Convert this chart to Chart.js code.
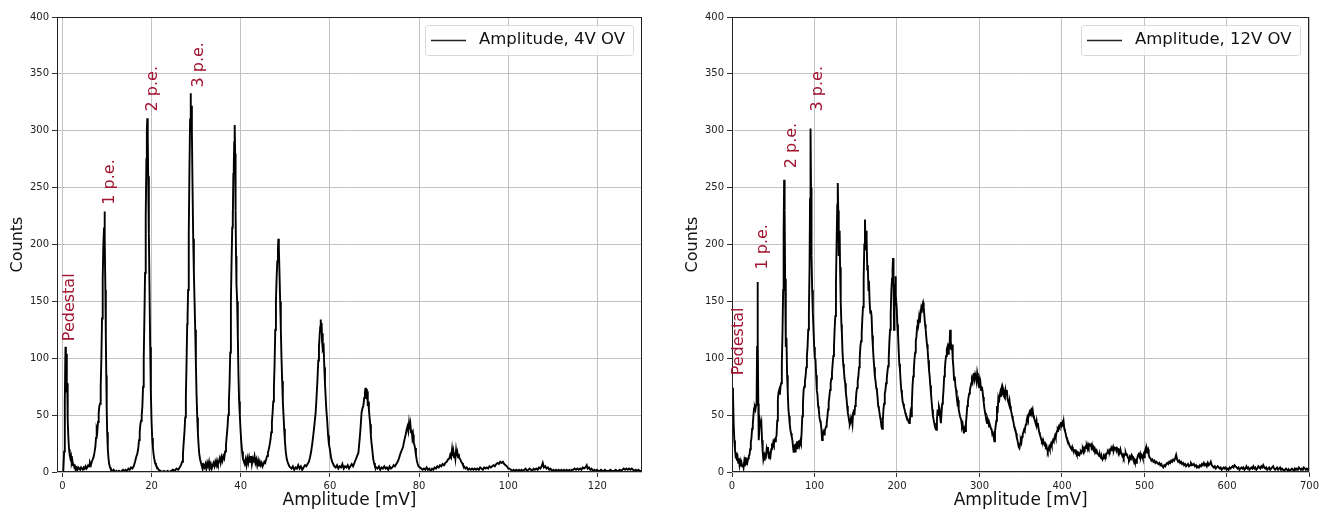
<!DOCTYPE html>
<html>
<head>
<meta charset="utf-8">
<script src="https://cdn.jsdelivr.net/npm/chart.js@4.4.0/dist/chart.umd.min.js"></script>
<style>
  html, body { margin: 0; padding: 0; background: #fff; }
  #wrap { position: relative; width: 1322px; height: 510px; }
  .panel { position: absolute; top: 0; }
  #left { left: 0; }
  #right { left: 675px; }
</style>
</head>
<body>
<div id="wrap">
  <div class="panel" id="left"><canvas id="c4" width="661" height="510"></canvas></div>
  <div class="panel" id="right"><canvas id="c12" width="647" height="510"></canvas></div>
</div>
<script>
// amplitude histogram, 4V overvoltage: [mV, counts]
const hist4V = [
  [-0.2,0],[0.2,0],[0.4,18],[0.55,62],[0.7,110],[0.8,96],[0.9,104],[1.0,70],[1.1,78],[1.2,46],[1.35,30],[1.5,20],[1.65,15],[1.8,12],[1.95,14],[2.1,8],[2.25,10],[2.4,6],[2.55,7],[2.7,4],[2.85,5],[3.0,3],[3.2,4],[3.4,2],[3.6,4],[3.8,3],[4.0,2],[4.2,4],[4.4,3],[4.6,2],[4.8,4],[5.0,3],[5.2,5],[5.4,3],[5.6,4],[5.8,6],[6.0,5],[6.2,8],[6.4,6],[6.6,9],[6.8,11],[7.0,13],[7.2,17],[7.4,22],[7.55,30],[7.7,38],[7.85,36],[8.0,44],[8.15,52],[8.3,58],[8.45,60],[8.6,75],[8.75,100],[8.9,135],[9.05,170],[9.2,200],[9.35,215],[9.45,229],[9.55,205],[9.65,160],[9.75,120],[9.85,85],[9.95,55],[10.05,35],[10.2,20],[10.35,12],[10.5,7],[10.7,4],[10.9,2],[11.2,1],[11.5,2],[11.8,0],[12.1,1],[12.4,0],[12.7,1],[13.0,0],[13.3,1],[13.6,2],[13.9,1],[14.2,2],[14.5,1],[14.8,3],[15.1,2],[15.4,4],[15.7,3],[16.0,5],
  [16.3,9],[16.55,13],[16.8,16],[17.0,20],[17.2,28],[17.35,35],[17.5,42],[17.65,45],[17.8,50],[17.95,58],[18.1,75],[18.25,100],[18.4,135],[18.55,175],[18.7,225],[18.85,275],[18.95,300],[19.05,311],[19.15,295],[19.25,260],[19.4,210],[19.55,160],[19.7,110],[19.85,70],[20.0,45],[20.15,30],[20.3,22],[20.45,16],[20.6,12],[20.8,8],[21.0,6],[21.3,4],[21.6,2],[22.0,1],[22.4,0],[22.8,1],[23.2,0],[23.6,1],[24.0,0],[24.4,1],[24.8,2],[25.2,1],[25.6,3],[26.0,2],
  [26.3,4],[26.6,6],[26.85,9],[27.05,16],[27.25,28],[27.4,36],[27.55,48],[27.7,66],[27.85,95],[28.0,130],[28.05,140],[28.12,136],[28.2,160],[28.35,210],[28.5,265],[28.65,310],[28.75,333],[28.85,318],[28.95,322],[29.05,300],[29.2,250],[29.35,205],[29.5,175],[29.65,150],[29.8,125],[29.95,95],[30.1,68],[30.25,48],[30.4,34],[30.55,24],[30.7,16],[30.9,11],[31.1,8],[31.3,5],[31.5,3],[31.7,6],[31.9,4],[32.1,7],[32.3,3],[32.5,8],[32.7,5],[32.9,9],[33.1,4],[33.3,7],[33.5,3],[33.7,6],[33.9,8],[34.1,5],[34.3,9],[34.5,6],[34.7,10],[34.9,7],[35.1,9],[35.3,12],[35.5,8],[35.7,13],[35.9,10],[36.1,14],[36.3,12],
  [36.5,18],[36.7,24],[36.9,33],[37.05,40],[37.2,50],[37.35,62],[37.5,78],[37.65,105],[37.8,150],[37.95,185],[38.1,215],[38.2,229],[38.25,222],[38.35,262],[38.45,270],[38.55,290],[38.65,305],[38.75,280],[38.85,230],[38.95,190],[39.05,165],[39.2,150],[39.35,120],[39.5,85],[39.65,62],[39.8,50],[39.95,38],[40.1,28],[40.3,18],[40.5,12],[40.7,9],[40.9,7],[41.1,11],[41.3,6],[41.5,12],[41.7,8],[41.9,13],[42.1,9],[42.3,14],[42.5,7],[42.7,12],[42.9,10],[43.1,14],[43.3,8],[43.5,11],[43.7,6],[43.9,10],[44.1,5],[44.3,9],[44.5,6],[44.7,8],[44.9,5],[45.1,7],[45.3,9],[45.5,8],[45.7,11],
  [45.9,14],[46.1,17],[46.3,20],[46.5,24],[46.7,29],[46.85,35],[47.0,44],[47.15,52],[47.3,62],[47.45,75],[47.6,95],[47.75,125],[47.9,150],[48.05,170],[48.2,185],[48.35,196],[48.45,205],[48.55,198],[48.7,175],[48.85,150],[49.0,125],[49.15,100],[49.3,80],[49.45,62],[49.6,50],[49.75,38],[49.9,28],[50.1,18],[50.3,12],[50.5,9],[50.7,7],[50.9,5],[51.1,4],[51.4,3],[51.7,5],[52.0,2],[52.3,4],[52.6,3],[52.9,6],[53.2,3],[53.5,5],[53.8,2],[54.1,4],[54.4,6],[54.7,5],[55.0,7],[55.3,9],
  [55.55,13],[55.8,18],[56.05,25],[56.3,33],[56.55,42],[56.8,52],[57.0,65],[57.2,80],[57.4,98],[57.55,110],[57.7,120],[57.85,128],[57.95,134],[58.05,126],[58.15,131],[58.25,115],[58.35,122],[58.45,108],[58.6,110],[58.75,92],[58.9,78],[59.05,66],[59.2,55],[59.4,45],[59.6,32],[59.8,24],[60.0,20],[60.25,13],[60.5,9],[60.75,7],[61.0,5],[61.3,4],[61.6,6],[61.9,3],[62.2,5],[62.5,4],[62.8,7],[63.1,3],[63.4,5],[63.7,4],[64.0,6],[64.3,3],[64.6,5],[64.9,7],[65.2,5],[65.5,8],
  [65.8,11],[66.1,14],[66.4,17],[66.7,30],[66.9,40],[67.1,52],[67.3,56],[67.5,58],[67.7,65],[67.85,70],[68.0,74],[68.1,66],[68.2,73],[68.3,64],[68.4,71],[68.5,58],[68.6,62],[68.75,55],[68.9,48],[69.05,42],[69.2,32],[69.35,25],[69.5,20],[69.7,12],[69.9,8],[70.1,5],[70.4,4],[70.7,3],[71.0,5],[71.3,2],[71.6,4],[71.9,3],[72.2,5],[72.5,3],[72.8,4],[73.1,2],[73.4,5],[73.7,3],[74.0,4],[74.3,6],[74.6,5],[74.9,7],
  [75.2,9],[75.5,12],[75.8,16],[76.1,19],[76.4,22],[76.7,28],[77.0,33],[77.2,37],[77.4,40],[77.6,36],[77.75,43],[77.9,38],[78.05,42],[78.2,35],[78.35,37],[78.5,30],[78.65,33],[78.8,26],[78.95,24],[79.1,21],[79.3,15],[79.5,10],[79.7,7],[79.9,5],[80.2,4],[80.5,3],[80.8,2],[81.1,3],[81.4,2],[81.7,4],[82.0,2],[82.3,3],[82.6,1],[82.9,3],[83.2,2],[83.5,4],[83.8,3],[84.1,5],[84.4,4],[84.7,6],[85.0,5],[85.3,7],[85.6,6],
  [85.9,8],[86.2,9],[86.5,11],[86.8,12],[87.0,15],[87.2,13],[87.4,20],[87.55,14],[87.7,18],[87.85,13],[88.0,17],[88.15,12],[88.3,19],[88.45,14],[88.6,17],[88.75,13],[88.9,16],[89.05,12],[89.25,11],[89.45,9],[89.65,8],[89.85,6],[90.1,5],[90.4,3],[90.7,4],[91.0,2],[91.3,3],[91.6,2],[91.9,3],[92.2,2],[92.5,3],[92.8,2],[93.1,3],[93.4,2],[93.7,4],[94.0,3],[94.3,2],[94.6,4],[94.9,3],[95.2,4],[95.5,3],[95.8,5],
  [96.1,4],[96.4,5],[96.7,6],[97.0,5],[97.3,7],[97.6,8],[97.9,7],[98.2,9],[98.5,8],[98.8,9],[99.1,7],[99.4,6],[99.7,5],[100.0,3],[100.3,3],[100.6,2],[100.9,1],[101.2,2],[101.5,1],[101.8,2],[102.1,1],[102.4,2],[102.7,1],[103.0,2],[103.3,1],[103.6,2],[103.9,3],[104.2,1],[104.5,2],[104.8,3],[105.1,2],[105.4,1],[105.7,3],[106.0,2],[106.3,3],[106.6,2],[106.9,4],[107.2,3],[107.5,5],[107.75,8],[108.0,4],[108.3,5],[108.6,3],[108.9,4],[109.2,2],[109.5,3],[109.8,1],[110.1,2],[110.4,1],[110.7,2],[111.0,1],[111.3,2],[111.6,1],[111.9,2],[112.2,1],[112.5,2],[112.8,1],[113.1,2],[113.4,1],[113.7,2],[114.0,1],[114.3,2],[114.6,2],[114.9,3],[115.2,2],[115.5,3],[115.8,2],[116.1,3],[116.4,2],[116.7,4],[117.0,3],[117.3,4],[117.6,6],[117.8,3],[118.1,4],[118.4,2],[118.7,3],[119.0,1],[119.3,2],[119.6,1],[119.9,2],[120.2,1],[120.5,1],[120.8,2],[121.1,1],[121.4,1],[121.7,2],[122.0,1],[122.3,1],[122.6,1],[122.9,2],[123.2,1],[123.5,1],[123.8,1],[124.1,2],[124.4,1],[124.7,1],[125.0,2],[125.3,1],[125.6,2],[125.9,3],[126.2,2],[126.5,3],[126.8,2],[127.1,3],[127.4,2],[127.7,3],[128.0,2],[128.3,1],[128.6,2],[128.9,1],[129.2,2],[129.5,1],[129.8,1],[130.1,1]
];

// amplitude histogram, 12V overvoltage: [mV, counts]
const hist12V = [
  [0.4,74],[1.2,68],[2.0,43],[2.8,28],[3.6,20],[4.4,14],[5.2,15],[6.0,10],[6.8,13],[7.6,8],[8.4,12],[9.2,6],[10.0,9],[10.8,5],[11.6,8],[12.4,5],[13.2,7],[14.0,4],[14.8,9],[15.6,5],[16.4,13],[17.2,7],[18.0,12],[18.8,9],[19.6,12],[20.4,14],[21.2,15],[22.0,20],[22.8,26],[23.6,30],[24.4,38],[25.2,42],[26.0,50],[26.8,56],[27.6,57],[28.4,55],[29.2,59],[29.8,62],[30.4,110],[30.9,167],[31.4,120],[31.9,60],[32.4,28],[33.2,38],[34.0,44],[34.8,40],[35.6,43],[36.4,28],[37.2,18],[38.0,11],[38.8,14],[39.6,10],[40.4,15],[41.2,14],[42.0,20],[42.8,17],[43.6,22],[44.4,14],[45.2,12],[46.0,18],[46.8,15],[47.6,20],[48.4,23],[49.2,22],[50.0,26],[50.8,24],[51.6,28],[52.4,27],[53.2,30],[54.0,32],[54.8,45],[55.6,64],[56.4,70],[57.2,72],[58.0,68],[58.8,75],[59.6,78],[60.4,95],[61.2,122],[62.0,160],[62.6,210],[63.2,257],[63.8,230],[64.4,170],[65.2,110],[66.0,118],[66.8,85],[67.6,70],[68.4,55],[69.2,49],[70.0,42],[70.8,37],[71.6,34],[72.4,31],[73.2,28],[74.0,22],[74.8,17],[75.6,24],[76.4,18],[77.2,25],[78.0,20],[78.8,27],[79.6,20],[80.4,26],[81.2,28],[82.0,24],[82.8,27],[83.6,25],[84.4,35],[85.2,49],[86.0,60],[86.8,72],[87.6,75],[88.4,80],[89.2,84],[90.0,92],[90.8,102],[91.6,110],[92.4,125],[93.2,140],[94.0,180],[94.6,240],[95.2,302],[95.8,250],[96.4,190],[97.2,160],[98.0,140],[98.8,125],[99.6,110],[100.4,100],[101.2,99],[102.0,85],[102.8,72],[103.6,68],[104.4,58],[105.2,55],[106.0,48],[106.8,45],[107.6,43],[108.4,38],[109.2,28],[110.0,32],[110.8,35],[111.6,33],[112.4,36],[113.2,38],[114.0,40],[114.8,43],[115.6,48],[116.4,55],[117.2,61],[118.0,66],[118.8,72],[119.6,78],[120.4,82],[121.2,87],[122.0,95],[122.8,102],[123.6,110],[124.4,125],[125.2,137],[126.0,165],[126.8,200],[127.6,235],[128.2,254],[128.8,230],[129.4,190],[130.0,205],[130.5,212],[131.0,180],[131.8,150],[132.6,130],[133.2,122],[134.0,105],[134.8,95],[135.6,90],[136.4,82],[137.2,78],[138.0,70],[138.8,65],[139.6,58],[140.4,52],[141.2,49],[142.0,45],[142.8,42],[143.6,44],[144.4,48],[145.2,46],[146.0,42],[146.8,52],[147.6,55],[148.4,50],[149.2,58],[150.0,62],[150.8,70],[151.6,74],[152.4,80],[153.2,84],[154.0,92],[154.8,100],[155.6,110],[156.4,115],[157.2,122],[158.0,135],[158.8,145],[159.6,170],[160.4,200],[161.2,222],[162.0,195],[162.6,212],[163.2,205],[164.0,178],[164.6,182],[165.4,160],[166.0,168],[166.8,150],[167.6,140],[168.4,142],[169.2,137],[170.0,120],[170.8,110],[171.6,100],[172.4,92],[173.2,84],[174.0,80],[174.8,74],[175.6,72],[176.4,66],[177.2,58],[178.0,56],[178.8,52],[179.6,48],[180.4,45],[181.2,40],[182.0,38],[182.8,45],[183.6,55],[184.4,60],[185.2,69],[186.0,72],[186.8,78],[187.6,82],[188.4,88],[189.2,93],[190.0,100],[190.8,115],[191.6,125],[192.4,140],[193.2,160],[194.0,170],[194.6,178],[195.2,188],[195.8,175],[196.4,125],[197.0,150],[197.6,165],[198.2,172],[198.8,155],[199.6,145],[200.4,130],[201.2,122],[202.0,108],[202.8,95],[203.6,90],[204.4,80],[205.2,72],[206.0,68],[206.8,62],[207.6,60],[208.4,57],[209.2,55],[210.0,52],[210.8,50],[211.6,49],[212.4,47],[213.2,46],[214.0,44],[214.8,43],[215.6,45],[216.4,52],[217.2,49],[218.0,60],[218.8,75],[219.6,84],[220.4,90],[221.2,99],[222.0,105],[222.8,115],[223.6,119],[224.4,128],[225.2,134],[226.0,130],[226.8,136],[227.6,131],[228.4,138],[229.2,143],[230.0,140],[230.8,147],[231.6,149],[232.4,145],[233.2,137],[234.0,130],[234.8,125],[235.6,118],[236.4,112],[237.2,107],[238.0,98],[238.8,90],[239.6,84],[240.4,76],[241.2,69],[242.0,62],[242.8,55],[243.6,49],[244.4,46],[245.2,43],[246.0,40],[246.8,38],[247.6,37],[248.4,45],[249.2,55],[250.0,50],[250.8,58],[251.6,56],[252.4,48],[253.2,43],[254.0,52],[254.8,60],[255.6,64],[256.4,72],[257.2,84],[258.0,90],[258.8,98],[259.6,102],[260.4,108],[261.2,110],[262.0,104],[262.8,113],[263.6,108],[264.4,125],[265.2,115],[266.0,107],[266.8,112],[267.6,99],[268.4,92],[269.2,81],[270.0,84],[270.8,76],[271.6,72],[272.4,66],[273.2,61],[274.0,63],[274.8,55],[275.6,52],[276.4,49],[277.2,49],[278.0,45],[278.8,40],[279.6,42],[280.4,37],[281.2,34],[282.0,38],[282.8,36],[283.6,43],[284.4,50],[285.2,58],[286.0,62],[286.8,66],[287.6,69],[288.4,72],[289.2,75],[290.0,78],[290.8,81],[291.6,79],[292.4,85],[293.2,87],[294.0,82],[294.8,86],[295.6,84],[296.4,80],[297.2,87],[298.0,83],[298.8,78],[299.6,81],[300.4,74],[301.2,78],[302.0,72],[302.8,75],[303.6,72],[304.4,66],[305.2,61],[306.0,56],[306.8,52],[307.6,49],[308.4,45],[309.2,43],[310.0,46],[310.8,44],[311.6,40],[312.4,42],[313.2,40],[314.0,38],[314.8,37],[315.6,33],[316.4,34],[317.2,31],[318.0,27],[318.8,36],[319.6,40],[320.4,45],[321.2,58],[322.0,52],[322.8,64],[323.6,61],[324.4,67],[325.2,70],[326.0,66],[326.8,72],[327.6,68],[328.4,74],[329.2,72],[330.0,66],[330.8,65],[331.6,72],[332.4,69],[333.2,72],[334.0,64],[334.8,62],[335.6,60],[336.4,63],[337.2,58],[338.0,55],[338.8,52],[339.6,49],[340.4,46],[341.2,44],[342.0,40],[342.8,38],[343.6,37],[344.4,34],[345.2,30],[346.0,28],[346.8,25],[347.6,22],[348.4,21],[349.2,25],[350.0,28],[350.8,26],[351.6,31],[352.4,33],[353.2,35],[354.0,37],[354.8,36],[355.6,40],[356.4,42],[357.2,45],[358.0,48],[358.8,46],[359.6,50],[360.4,52],[361.2,49],[362.0,54],[362.8,55],[363.6,53],[364.4,55],[365.2,50],[366.0,48],[366.8,46],[367.6,44],[368.4,42],[369.2,45],[370.0,40],[370.8,43],[371.6,38],[372.4,35],[373.2,33],[374.0,31],[374.8,29],[375.6,27],[376.4,28],[377.2,25],[378.0,26],[378.8,24],[379.6,25],[380.4,22],[381.2,23],[382.0,20],[382.8,18],[383.6,20],[384.4,22],[385.2,20],[386.0,23],[386.8,25],[387.6,23],[388.4,26],[389.2,28],[390.0,27],[390.8,30],[391.6,32],[392.4,30],[393.2,34],[394.0,36],[394.8,38],[395.6,37],[396.4,40],[397.2,39],[398.0,42],[398.8,44],[399.6,41],[400.4,43],[401.2,40],[402.0,44],[402.8,38],[403.6,36],[404.4,34],[405.2,31],[406.0,29],[406.8,28],[407.6,26],[408.4,25],[409.2,23],[410.0,22],[410.8,21],[411.6,20],[412.4,22],[413.2,20],[414.0,19],[414.8,18],[415.6,20],[416.4,17],[417.2,18],[418.0,16],[418.8,17],[419.6,15],[420.4,16],[421.2,15],[422.0,17],[422.8,18],[423.6,17],[424.4,19],[425.2,20],[426.0,18],[426.8,21],[427.6,20],[428.4,22],[429.2,21],[430.0,23],[430.8,21],[431.6,24],[432.4,22],[433.2,24],[434.0,23],[434.8,25],[435.6,22],[436.4,24],[437.2,21],[438.0,22],[438.8,20],[439.6,21],[440.4,19],[441.2,18],[442.0,19],[442.8,17],[443.6,16],[444.4,15],[445.2,14],[446.0,15],[446.8,13],[447.6,12],[448.4,13],[449.2,11],[450.0,12],[450.8,14],[451.6,13],[452.4,15],[453.2,14],[454.0,16],[454.8,17],[455.6,18],[456.4,17],[457.2,19],[458.0,18],[458.8,20],[459.6,19],[460.4,21],[461.2,20],[462.0,22],[462.8,19],[463.6,21],[464.4,20],[465.2,22],[466.0,19],[466.8,21],[467.6,20],[468.4,17],[469.2,19],[470.0,18],[470.8,20],[471.6,17],[472.4,16],[473.2,14],[474.0,15],[474.8,13],[475.6,15],[476.4,16],[477.2,17],[478.0,15],[478.8,16],[479.6,13],[480.4,12],[481.2,11],[482.0,13],[482.8,11],[483.6,13],[484.4,15],[485.2,14],[486.0,12],[486.8,10],[487.6,11],[488.4,9],[489.2,10],[490.0,8],[490.8,11],[491.6,13],[492.4,15],[493.2,17],[494.0,14],[494.8,16],[495.6,13],[496.4,15],[497.2,14],[498.0,12],[498.8,15],[499.6,13],[500.4,18],[501.2,20],[502.0,17],[502.8,21],[503.6,19],[504.4,20],[505.2,15],[506.0,13],[507.2,12],[508.4,10],[509.6,11],[510.8,9],[512.0,10],[513.2,8],[514.4,9],[515.6,8],[516.8,7],[518.0,8],[519.2,6],[520.4,7],[521.6,5],[522.8,4],[524.0,6],[525.2,5],[526.4,7],[527.6,8],[528.8,7],[530.0,9],[531.2,8],[532.4,10],[533.6,9],[534.8,11],[536.0,10],[537.2,12],[538.4,15],[539.6,11],[540.8,9],[542.0,10],[543.2,8],[544.4,9],[545.6,7],[546.8,8],[548.0,6],[549.2,7],[550.4,5],[551.6,6],[552.8,7],[554.0,5],[555.2,6],[556.4,8],[557.6,7],[558.8,6],[560.0,7],[561.2,5],[562.4,6],[563.6,4],[564.8,5],[566.0,4],[567.2,6],[568.4,5],[569.6,7],[570.8,6],[572.0,8],[573.2,6],[574.4,7],[575.6,5],[576.8,8],[578.0,6],[579.2,7],[580.4,9],[581.6,6],[582.8,5],[584.0,4],[585.2,5],[586.4,3],[587.6,4],[588.8,5],[590.0,4],[591.2,3],[592.4,4],[593.6,2],[594.8,3],[596.0,4],[597.2,3],[598.4,4],[599.6,2],[600.8,3],[602.0,2],[603.2,4],[604.4,3],[605.6,4],[606.8,5],[608.0,4],[609.2,6],[610.4,5],[611.6,4],[612.8,3],[614.0,4],[615.2,2],[616.4,3],[617.6,4],[618.8,3],[620.0,4],[621.2,2],[622.4,3],[623.6,5],[624.8,3],[626.0,4],[627.2,2],[628.4,3],[629.6,4],[630.8,3],[632.0,5],[633.2,3],[634.4,4],[635.6,2],[636.8,3],[638.0,5],[639.2,4],[640.4,3],[641.6,5],[642.8,4],[644.0,6],[645.2,4],[646.4,3],[647.6,4],[648.8,2],[650.0,3],[651.2,4],[652.4,2],[653.6,3],[654.8,4],[656.0,5],[657.2,3],[658.4,2],[659.6,3],[660.8,4],[662.0,2],[663.2,3],[664.4,4],[665.6,2],[666.8,3],[668.0,2],[669.2,1],[670.4,2],[671.6,3],[672.8,2],[674.0,1],[675.2,2],[676.4,1],[677.6,2],[678.8,3],[680.0,2],[681.2,1],[682.4,3],[683.6,2],[684.8,3],[686.0,2],[687.2,4],[688.4,3],[689.6,2],[690.8,3],[692.0,2],[693.2,4],[694.4,3],[695.6,2],[696.8,3],[698.0,2],[699.2,3],[700.0,3]
];

const yTicks = [0, 50, 100, 150, 200, 250, 300, 350, 400];
const xTicks4V = [0, 20, 40, 60, 80, 100, 120];
const xTicks12V = [0, 100, 200, 300, 400, 500, 600, 700];

// peak annotations (text, amplitude, counts where the text starts)
const peakNames = ['Pedestal', '1 p.e.', '2 p.e.', '3 p.e.'];
const peakX4V = [1.7, 10.6, 20.2, 30.5];
const peakY4V = [115, 235, 317, 338];
const peakX12V = [8.6, 37, 72, 104];
const peakY12V = [85, 178, 267, 317];

const FONT = '"DejaVu Sans", sans-serif';
Chart.defaults.font.family = FONT;
Chart.defaults.color = '#222';

// black box round the plot area, like matplotlib spines
const frame = {
  id: 'frame',
  afterDatasetsDraw(chart) {
    const {ctx, chartArea: a} = chart;
    ctx.save();
    ctx.strokeStyle = '#222';
    ctx.lineWidth = 1;
    ctx.strokeRect(Math.round(a.left) + 0.5, Math.round(a.top) + 0.5,
      Math.round(a.right - a.left) - 1, Math.round(a.bottom - a.top) - 1);
    ctx.restore();
  }
};

// rotated red labels over the peaks
const peakLabels = {
  id: 'peakLabels',
  afterDatasetsDraw(chart, args, opts) {
    const {ctx, scales: {x, y}} = chart;
    ctx.save();
    ctx.font = '16px ' + FONT;
    ctx.fillStyle = '#A2142F';
    ctx.textAlign = 'left';
    ctx.textBaseline = 'middle';
    opts.names.forEach((t, i) => {
      ctx.save();
      ctx.translate(x.getPixelForValue(opts.xs[i]), y.getPixelForValue(opts.ys[i]));
      ctx.rotate(-Math.PI / 2);
      ctx.fillText(t, 0, 0);
      ctx.restore();
    });
    ctx.restore();
  }
};

// matplotlib-ish legend box in the upper right corner
const legendBox = {
  id: 'legendBox',
  afterDraw(chart) {
    const {ctx, chartArea: a} = chart;
    const text = chart.data.datasets[0].label;
    ctx.save();
    ctx.font = '16.5px ' + FONT;
    const tw = ctx.measureText(text).width;
    const w = Math.round(6 + 35 + 13 + tw + 8), h = 30;
    const bx = Math.round(a.right - 9 - w), by = Math.round(a.top + 8);
    ctx.beginPath();
    ctx.roundRect(bx + 0.5, by + 0.5, w, h, 3);
    ctx.fillStyle = 'rgba(255,255,255,0.8)';
    ctx.fill();
    ctx.strokeStyle = '#d9d9d9';
    ctx.lineWidth = 1;
    ctx.stroke();
    ctx.beginPath();
    ctx.moveTo(bx + 6, by + 15.5);
    ctx.lineTo(bx + 41, by + 15.5);
    ctx.strokeStyle = '#222';
    ctx.lineWidth = 1.6;
    ctx.stroke();
    ctx.fillStyle = '#111';
    ctx.textBaseline = 'middle';
    ctx.fillText(text, bx + 54, by + 15);
    ctx.restore();
  }
};

function makeChart(id, hist, label, xMin, xMax, xTicks, padRight, px, py) {
  return new Chart(document.getElementById(id), {
    type: 'line',
    data: {
      datasets: [{
        label: label,
        data: hist.map(p => ({x: p[0], y: p[1]})),
        borderColor: '#000',
        borderWidth: 1.9,
        pointRadius: 0,
        tension: 0,
        fill: false
      }]
    },
    options: {
      responsive: false,
      animation: false,
      layout: { padding: { left: 0, right: padRight, top: 17, bottom: 0 } },
      plugins: {
        legend: { display: false },
        tooltip: { enabled: false },
        peakLabels: { names: peakNames, xs: px, ys: py }
      },
      scales: {
        x: {
          type: 'linear',
          min: xMin,
          max: xMax,
          afterBuildTicks: s => { s.ticks = xTicks.map(v => ({value: v})); },
          afterFit: s => { s.height = 38; },
          grid: { color: '#c2c2c2', lineWidth: 1, tickLength: 5, tickColor: '#333' },
          border: { display: false },
          ticks: { font: { size: 10 }, color: '#222', padding: 3, maxRotation: 0 },
          title: { display: true, text: 'Amplitude [mV]', color: '#111',
                   font: { size: 17, lineHeight: 1 }, padding: { top: 0, bottom: 1 } }
        },
        y: {
          type: 'linear',
          min: 0,
          max: 400,
          afterBuildTicks: s => { s.ticks = yTicks.map(v => ({value: v})); },
          afterFit: s => { s.width = 57; },
          grid: { color: '#c2c2c2', lineWidth: 1, tickLength: 5, tickColor: '#333' },
          border: { display: false },
          ticks: { font: { size: 10 }, color: '#222', padding: 3 },
          title: { display: true, text: 'Counts', color: '#111',
                   font: { size: 16, lineHeight: 1 }, padding: { top: 10, bottom: 0 } }
        }
      }
    },
    plugins: [frame, peakLabels, legendBox]
  });
}

makeChart('c4', hist4V, 'Amplitude, 4V OV', -1.2, 130, xTicks4V, 19, peakX4V, peakY4V);
makeChart('c12', hist12V, 'Amplitude, 12V OV', 0, 700, xTicks12V, 9, peakX12V, peakY12V);
</script>
</body>
</html>
